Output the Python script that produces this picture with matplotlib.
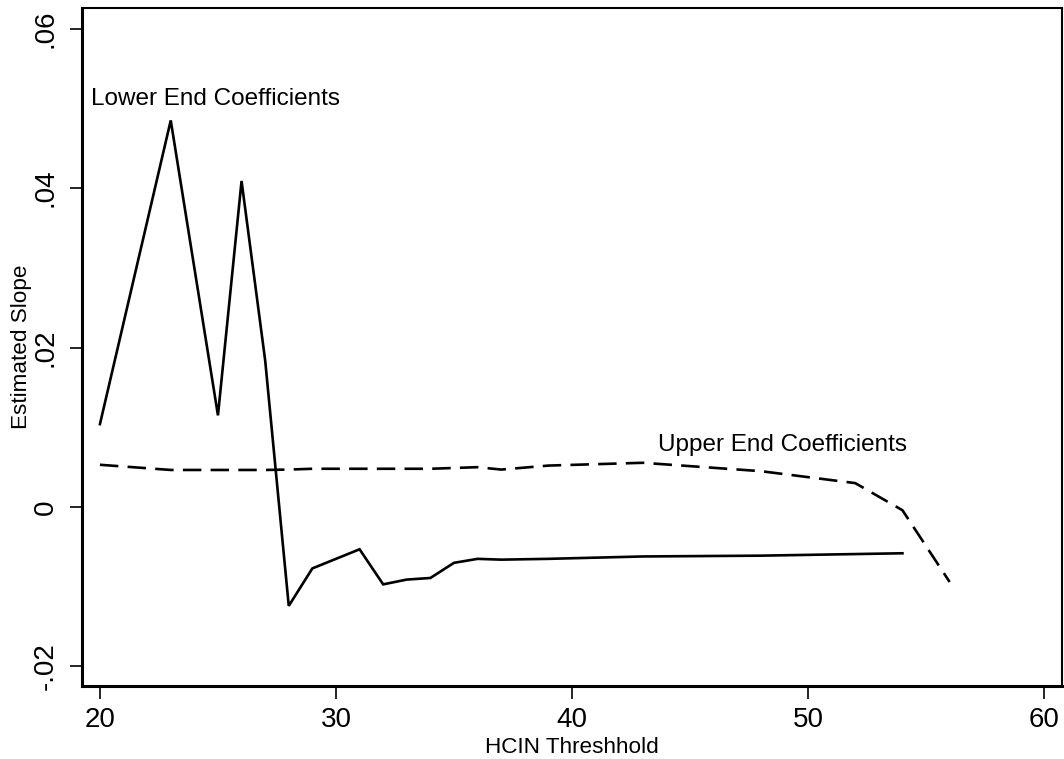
import matplotlib
matplotlib.use("Agg")
import matplotlib.pyplot as plt

plt.rcParams['font.family'] = ['Liberation Sans', 'DejaVu Sans']

lower_x = [20, 23, 25, 26, 27, 28, 29, 31, 32, 33, 34, 35, 36, 37, 39, 43, 48, 52, 54]
lower_y = [0.0104, 0.0485, 0.0115, 0.0409, 0.0184, -0.0124, -0.0077, -0.0053, -0.0097,
           -0.0091, -0.0089, -0.0070, -0.0065, -0.0066, -0.0065, -0.0062, -0.0061, -0.0059, -0.0058]

upper_x = [20, 23, 25, 26, 27, 28, 29, 31, 32, 33, 34, 35, 36, 37, 39, 43, 48, 52, 54, 56]
upper_y = [0.0053, 0.00465, 0.00465, 0.00465, 0.00465, 0.0047, 0.0048, 0.0048, 0.0048, 0.0048,
           0.0048, 0.0049, 0.0050, 0.0047, 0.0052, 0.00555, 0.0045, 0.0030, -0.0004, -0.0094]

xticks = [20, 30, 40, 50, 60]
yticks = [-0.02, 0, 0.02, 0.04, 0.06]
ytick_labels = ["-.02", "0", ".02", ".04", ".06"]

fig = plt.figure(figsize=(10.64, 7.59), dpi=100)
ax = fig.add_axes([82/1064, 73/759, 980/1064, 678/759])

ax.plot(lower_x, lower_y, color='black', lw=1.9, solid_joinstyle='miter')
ax.plot(upper_x, upper_y, color='black', lw=1.9, linestyle=(0, (7, 3.5)))

ax.text(19.62, 0.0512, "Lower End Coefficients", fontsize=17.5, va='center', ha='left')
ax.text(43.65, 0.0078, "Upper End Coefficients", fontsize=17.5, va='center', ha='left')

ax.set_xlim(19.24, 60.76)
ax.set_ylim(-0.02245, 0.0626)
ax.set_xticks(xticks)
ax.set_xticklabels([str(t) for t in xticks])
ax.set_yticks(yticks)
ax.set_yticklabels(ytick_labels, rotation=90, va='center')

ax.tick_params(axis='both', direction='out', length=9, width=1.2, labelsize=20, color='black')
ax.tick_params(axis='x', pad=6)
ax.tick_params(axis='y', pad=8)

for s in ['left', 'bottom']:
    ax.spines[s].set_linewidth(2.2)
for s in ['top', 'right']:
    ax.spines[s].set_linewidth(1.5)

ax.set_xlabel("HCIN Threshhold", fontsize=16.2, labelpad=3)
ax.set_ylabel("Estimated Slope", fontsize=16.2, labelpad=0)

fig.savefig("out.png", dpi=100)
